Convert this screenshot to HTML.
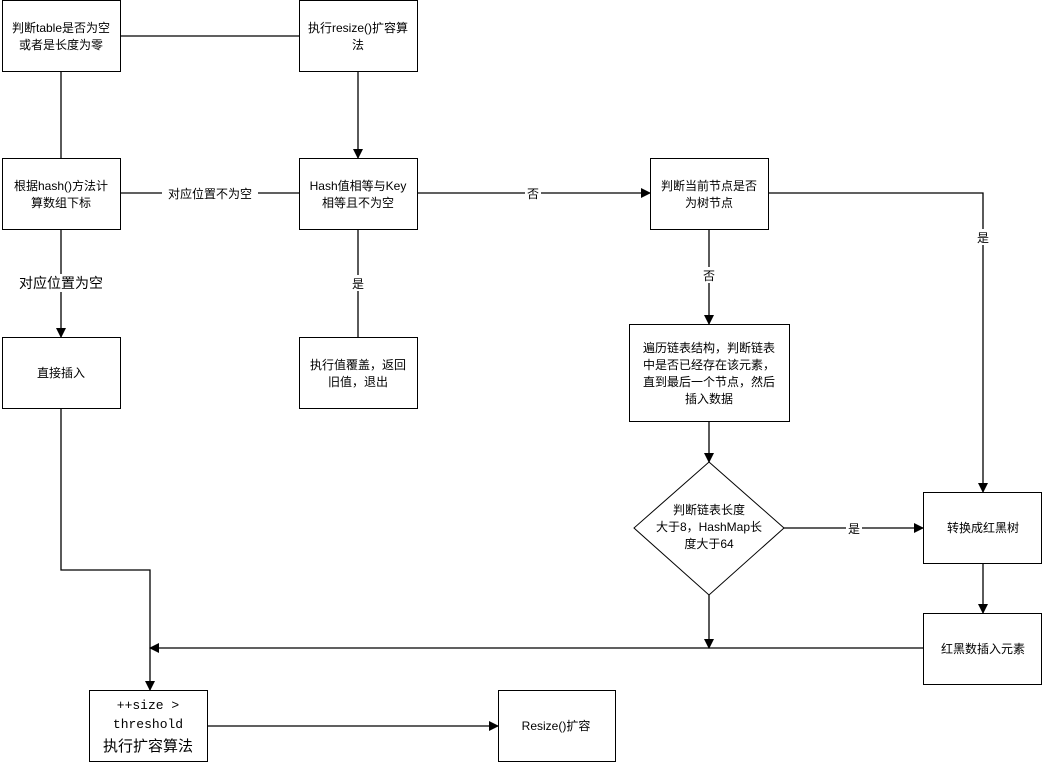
<!DOCTYPE html>
<html><head><meta charset="utf-8"><style>
body{margin:0;background:#fff}
text{font-family:"Liberation Sans","Noto Sans CJK SC",sans-serif;font-size:12px;fill:#000}
</style></head><body>
<svg width="1043" height="763" viewBox="0 0 1043 763" xmlns="http://www.w3.org/2000/svg">
<defs><marker id="a" markerWidth="10" markerHeight="10" refX="9" refY="5" orient="auto" markerUnits="userSpaceOnUse"><path d="M0,0 L10,5 L0,10 z" fill="#000"/></marker></defs>
<g stroke="#000" stroke-width="1.3" fill="none">
<line x1="120" y1="36" x2="299" y2="36"/>
<line x1="61" y1="71" x2="61" y2="158"/>
<line x1="358" y1="71" x2="358" y2="158" marker-end="url(#a)"/>
<line x1="120" y1="193" x2="299" y2="193"/>
<line x1="417" y1="193" x2="650" y2="193" marker-end="url(#a)"/>
<polyline points="768,193 983,193 983,492" marker-end="url(#a)"/>
<line x1="709" y1="229" x2="709" y2="324" marker-end="url(#a)"/>
<line x1="358" y1="229" x2="358" y2="337"/>
<line x1="61" y1="229" x2="61" y2="337" marker-end="url(#a)"/>
<polyline points="61,408 61,570 150,570 150,690" marker-end="url(#a)"/>
<line x1="709" y1="421" x2="709" y2="462" marker-end="url(#a)"/>
<line x1="784" y1="528" x2="923" y2="528" marker-end="url(#a)"/>
<line x1="983" y1="563" x2="983" y2="613" marker-end="url(#a)"/>
<line x1="923" y1="648" x2="150" y2="648" marker-end="url(#a)"/>
<line x1="709" y1="595" x2="709" y2="648" marker-end="url(#a)"/>
<line x1="207" y1="726" x2="498" y2="726" marker-end="url(#a)"/>
</g>
<g fill="#fff" stroke="#000" stroke-width="1">
<rect x="2.5" y="0.5" width="118" height="71"/>
<rect x="299.5" y="0.5" width="118" height="71"/>
<rect x="2.5" y="158.5" width="118" height="71"/>
<rect x="299.5" y="158.5" width="118" height="71"/>
<rect x="650.5" y="158.5" width="118" height="71"/>
<rect x="2.5" y="337.5" width="118" height="71"/>
<rect x="299.5" y="337.5" width="118" height="71"/>
<rect x="629.5" y="324.5" width="160" height="97"/>
<polygon points="709,462 784,528 709,595 634,528"/>
<rect x="923.5" y="492.5" width="118" height="71"/>
<rect x="923.5" y="613.5" width="118" height="71"/>
<rect x="89.5" y="690.5" width="118" height="71"/>
<rect x="498.5" y="690.5" width="117" height="71"/>
</g>
<g text-anchor="middle">
<text x="61" y="32">判断table是否为空</text><text x="61" y="49">或者是长度为零</text>
<text x="358" y="32">执行resize()扩容算</text><text x="358" y="49">法</text>
<text x="61" y="190">根据hash()方法计</text><text x="61" y="207">算数组下标</text>
<text x="358" y="190">Hash值相等与Key</text><text x="358" y="207">相等且不为空</text>
<text x="709" y="190">判断当前节点是否</text><text x="709" y="207">为树节点</text>
<text x="61" y="377">直接插入</text>
<text x="358" y="369">执行值覆盖，返回</text><text x="358" y="386">旧值，退出</text>
<text x="709" y="352">遍历链表结构，判断链表</text><text x="709" y="369">中是否已经存在该元素，</text><text x="709" y="386">直到最后一个节点，然后</text><text x="709" y="403">插入数据</text>
<text x="709" y="514">判断链表长度</text><text x="709" y="531">大于8，HashMap长</text><text x="709" y="548">度大于64</text>
<text x="983" y="532">转换成红黑树</text>
<text x="983" y="653">红黑数插入元素</text>
<text x="148" y="709" style="font-family:'Liberation Mono',monospace;font-size:13px">++size &gt;</text>
<text x="148" y="728" style="font-family:'Liberation Mono',monospace;font-size:13px">threshold</text>
<text x="148" y="751" style="font-size:15px">执行扩容算法</text>
<text x="556" y="730">Resize()扩容</text>
</g>
<g text-anchor="middle">
<rect x="162" y="185" width="96" height="16" fill="#fff"/>
<text x="210" y="198">对应位置不为空</text>
<rect x="525" y="185" width="16" height="16" fill="#fff"/>
<text x="533" y="198">否</text>
<rect x="975" y="229" width="16" height="16" fill="#fff"/>
<text x="983" y="242">是</text>
<rect x="701" y="267" width="16" height="16" fill="#fff"/>
<text x="709" y="280">否</text>
<rect x="350" y="275" width="16" height="16" fill="#fff"/>
<text x="358" y="288">是</text>
<rect x="10" y="274" width="102" height="18" fill="#fff"/>
<text x="61" y="288" style="font-size:14px">对应位置为空</text>
<rect x="846" y="520" width="16" height="16" fill="#fff"/>
<text x="854" y="533">是</text>
</g>
</svg>
</body></html>
